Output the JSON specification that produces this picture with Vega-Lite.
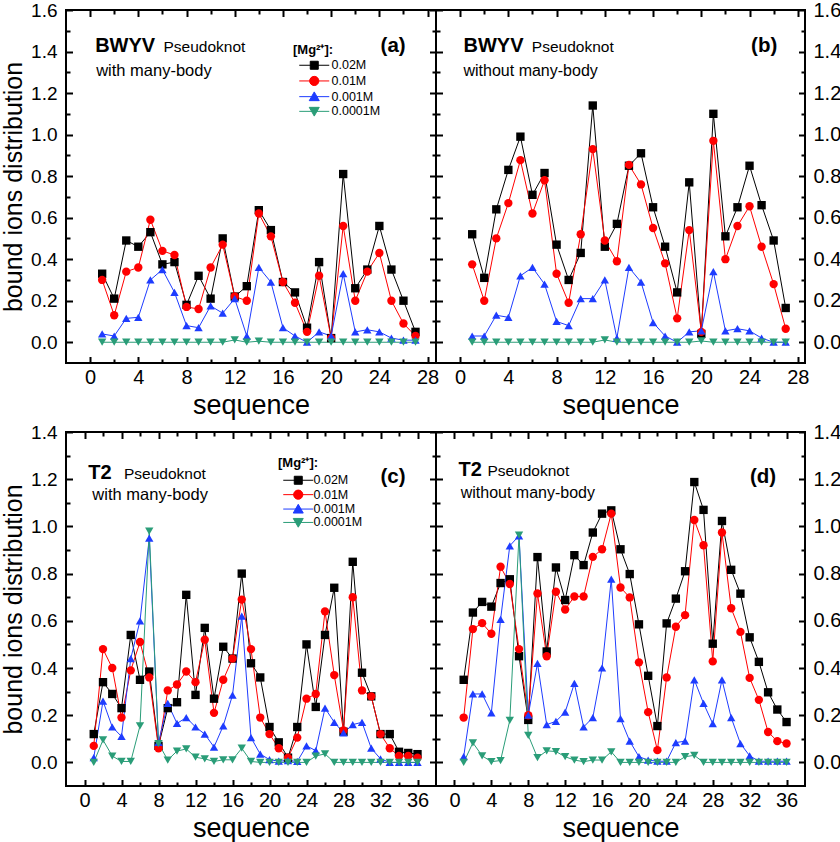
{
"$schema": "https://vega.github.io/schema/vega-lite/v6.json",
"padding": {"left": 0, "top": -1, "right": 0, "bottom": 0},
"config": {
  "font": "Liberation Sans",
  "view": {"stroke": "#000", "strokeWidth": 2},
  "axis": {"labelFont": "Liberation Sans", "titleFont": "Liberation Sans", "labelColor": "#000", "titleColor": "#000", "titleFontWeight": "normal", "gridColor": "#000", "gridOpacity": 1, "gridWidth": 2, "ticks": false, "domain": false, "labelFlush": false, "labelOverlap": false},
  "legend": {"labelFont": "Liberation Sans", "titleFont": "Liberation Sans", "labelColor": "#000", "titleColor": "#000"},
  "text": {"font": "Liberation Sans", "color": "#000"},
  "point": {"filled": true, "size": 70, "opacity": 1}
},
"datasets": {
"A": [
{"s":1,"c":"0.02M","v":0.33},{"s":2,"c":"0.02M","v":0.21},{"s":3,"c":"0.02M","v":0.49},{"s":4,"c":"0.02M","v":0.46},{"s":5,"c":"0.02M","v":0.53},{"s":6,"c":"0.02M","v":0.375},{"s":7,"c":"0.02M","v":0.386},{"s":8,"c":"0.02M","v":0.18},{"s":9,"c":"0.02M","v":0.32},{"s":10,"c":"0.02M","v":0.21},{"s":11,"c":"0.02M","v":0.5},{"s":12,"c":"0.02M","v":0.22},{"s":13,"c":"0.02M","v":0.27},{"s":14,"c":"0.02M","v":0.636},{"s":15,"c":"0.02M","v":0.54},{"s":16,"c":"0.02M","v":0.29},{"s":17,"c":"0.02M","v":0.24},{"s":18,"c":"0.02M","v":0.07},{"s":19,"c":"0.02M","v":0.386},{"s":20,"c":"0.02M","v":0.02},{"s":21,"c":"0.02M","v":0.81},{"s":22,"c":"0.02M","v":0.26},{"s":23,"c":"0.02M","v":0.35},{"s":24,"c":"0.02M","v":0.56},{"s":25,"c":"0.02M","v":0.35},{"s":26,"c":"0.02M","v":0.2},{"s":27,"c":"0.02M","v":0.05},
{"s":1,"c":"0.01M","v":0.3},{"s":2,"c":"0.01M","v":0.13},{"s":3,"c":"0.01M","v":0.34},{"s":4,"c":"0.01M","v":0.36},{"s":5,"c":"0.01M","v":0.59},{"s":6,"c":"0.01M","v":0.44},{"s":7,"c":"0.01M","v":0.42},{"s":8,"c":"0.01M","v":0.17},{"s":9,"c":"0.01M","v":0.16},{"s":10,"c":"0.01M","v":0.36},{"s":11,"c":"0.01M","v":0.47},{"s":12,"c":"0.01M","v":0.22},{"s":13,"c":"0.01M","v":0.2},{"s":14,"c":"0.01M","v":0.62},{"s":15,"c":"0.01M","v":0.51},{"s":16,"c":"0.01M","v":0.29},{"s":17,"c":"0.01M","v":0.19},{"s":18,"c":"0.01M","v":0.05},{"s":19,"c":"0.01M","v":0.32},{"s":20,"c":"0.01M","v":0.02},{"s":21,"c":"0.01M","v":0.56},{"s":22,"c":"0.01M","v":0.2},{"s":23,"c":"0.01M","v":0.34},{"s":24,"c":"0.01M","v":0.43},{"s":25,"c":"0.01M","v":0.2},{"s":26,"c":"0.01M","v":0.09},{"s":27,"c":"0.01M","v":0.03},
{"s":1,"c":"0.001M","v":0.04},{"s":2,"c":"0.001M","v":0.03},{"s":3,"c":"0.001M","v":0.115},{"s":4,"c":"0.001M","v":0.12},{"s":5,"c":"0.001M","v":0.3},{"s":6,"c":"0.001M","v":0.35},{"s":7,"c":"0.001M","v":0.24},{"s":8,"c":"0.001M","v":0.08},{"s":9,"c":"0.001M","v":0.07},{"s":10,"c":"0.001M","v":0.175},{"s":11,"c":"0.001M","v":0.14},{"s":12,"c":"0.001M","v":0.21},{"s":13,"c":"0.001M","v":0.03},{"s":14,"c":"0.001M","v":0.36},{"s":15,"c":"0.001M","v":0.29},{"s":16,"c":"0.001M","v":0.07},{"s":17,"c":"0.001M","v":0.03},{"s":18,"c":"0.001M","v":0.0},{"s":19,"c":"0.001M","v":0.05},{"s":20,"c":"0.001M","v":0.03},{"s":21,"c":"0.001M","v":0.33},{"s":22,"c":"0.001M","v":0.05},{"s":23,"c":"0.001M","v":0.06},{"s":24,"c":"0.001M","v":0.05},{"s":25,"c":"0.001M","v":0.02},{"s":26,"c":"0.001M","v":0.01},{"s":27,"c":"0.001M","v":0.01},
{"s":1,"c":"0.0001M","v":0},{"s":2,"c":"0.0001M","v":0},{"s":3,"c":"0.0001M","v":0},{"s":4,"c":"0.0001M","v":0},{"s":5,"c":"0.0001M","v":0},{"s":6,"c":"0.0001M","v":0},{"s":7,"c":"0.0001M","v":0},{"s":8,"c":"0.0001M","v":0},{"s":9,"c":"0.0001M","v":0},{"s":10,"c":"0.0001M","v":0},{"s":11,"c":"0.0001M","v":0},{"s":12,"c":"0.0001M","v":0.011},{"s":13,"c":"0.0001M","v":0},{"s":14,"c":"0.0001M","v":0.005},{"s":15,"c":"0.0001M","v":0},{"s":16,"c":"0.0001M","v":0},{"s":17,"c":"0.0001M","v":0},{"s":18,"c":"0.0001M","v":0},{"s":19,"c":"0.0001M","v":0},{"s":20,"c":"0.0001M","v":0},{"s":21,"c":"0.0001M","v":0},{"s":22,"c":"0.0001M","v":0},{"s":23,"c":"0.0001M","v":0},{"s":24,"c":"0.0001M","v":0},{"s":25,"c":"0.0001M","v":0},{"s":26,"c":"0.0001M","v":0},{"s":27,"c":"0.0001M","v":0}
],
"B": [
{"s":1,"c":"0.02M","v":0.52},{"s":2,"c":"0.02M","v":0.31},{"s":3,"c":"0.02M","v":0.64},{"s":4,"c":"0.02M","v":0.83},{"s":5,"c":"0.02M","v":0.99},{"s":6,"c":"0.02M","v":0.71},{"s":7,"c":"0.02M","v":0.815},{"s":8,"c":"0.02M","v":0.47},{"s":9,"c":"0.02M","v":0.3},{"s":10,"c":"0.02M","v":0.43},{"s":11,"c":"0.02M","v":1.14},{"s":12,"c":"0.02M","v":0.46},{"s":13,"c":"0.02M","v":0.57},{"s":14,"c":"0.02M","v":0.85},{"s":15,"c":"0.02M","v":0.91},{"s":16,"c":"0.02M","v":0.65},{"s":17,"c":"0.02M","v":0.46},{"s":18,"c":"0.02M","v":0.24},{"s":19,"c":"0.02M","v":0.77},{"s":20,"c":"0.02M","v":0.04},{"s":21,"c":"0.02M","v":1.1},{"s":22,"c":"0.02M","v":0.51},{"s":23,"c":"0.02M","v":0.65},{"s":24,"c":"0.02M","v":0.85},{"s":25,"c":"0.02M","v":0.66},{"s":26,"c":"0.02M","v":0.49},{"s":27,"c":"0.02M","v":0.165},
{"s":1,"c":"0.01M","v":0.375},{"s":2,"c":"0.01M","v":0.2},{"s":3,"c":"0.01M","v":0.5},{"s":4,"c":"0.01M","v":0.67},{"s":5,"c":"0.01M","v":0.877},{"s":6,"c":"0.01M","v":0.62},{"s":7,"c":"0.01M","v":0.78},{"s":8,"c":"0.01M","v":0.33},{"s":9,"c":"0.01M","v":0.19},{"s":10,"c":"0.01M","v":0.52},{"s":11,"c":"0.01M","v":0.93},{"s":12,"c":"0.01M","v":0.49},{"s":13,"c":"0.01M","v":0.39},{"s":14,"c":"0.01M","v":0.854},{"s":15,"c":"0.01M","v":0.76},{"s":16,"c":"0.01M","v":0.55},{"s":17,"c":"0.01M","v":0.38},{"s":18,"c":"0.01M","v":0.115},{"s":19,"c":"0.01M","v":0.54},{"s":20,"c":"0.01M","v":0.05},{"s":21,"c":"0.01M","v":0.97},{"s":22,"c":"0.01M","v":0.4},{"s":23,"c":"0.01M","v":0.56},{"s":24,"c":"0.01M","v":0.655},{"s":25,"c":"0.01M","v":0.46},{"s":26,"c":"0.01M","v":0.28},{"s":27,"c":"0.01M","v":0.065},
{"s":1,"c":"0.001M","v":0.03},{"s":2,"c":"0.001M","v":0.03},{"s":3,"c":"0.001M","v":0.13},{"s":4,"c":"0.001M","v":0.12},{"s":5,"c":"0.001M","v":0.32},{"s":6,"c":"0.001M","v":0.36},{"s":7,"c":"0.001M","v":0.28},{"s":8,"c":"0.001M","v":0.1},{"s":9,"c":"0.001M","v":0.08},{"s":10,"c":"0.001M","v":0.21},{"s":11,"c":"0.001M","v":0.21},{"s":12,"c":"0.001M","v":0.3},{"s":13,"c":"0.001M","v":0.02},{"s":14,"c":"0.001M","v":0.36},{"s":15,"c":"0.001M","v":0.29},{"s":16,"c":"0.001M","v":0.095},{"s":17,"c":"0.001M","v":0.03},{"s":18,"c":"0.001M","v":0.0},{"s":19,"c":"0.001M","v":0.05},{"s":20,"c":"0.001M","v":0.055},{"s":21,"c":"0.001M","v":0.34},{"s":22,"c":"0.001M","v":0.055},{"s":23,"c":"0.001M","v":0.065},{"s":24,"c":"0.001M","v":0.055},{"s":25,"c":"0.001M","v":0.02},{"s":26,"c":"0.001M","v":0.0},{"s":27,"c":"0.001M","v":0.0},
{"s":1,"c":"0.0001M","v":0},{"s":2,"c":"0.0001M","v":0},{"s":3,"c":"0.0001M","v":0},{"s":4,"c":"0.0001M","v":0},{"s":5,"c":"0.0001M","v":0},{"s":6,"c":"0.0001M","v":0},{"s":7,"c":"0.0001M","v":0},{"s":8,"c":"0.0001M","v":0},{"s":9,"c":"0.0001M","v":0},{"s":10,"c":"0.0001M","v":0},{"s":11,"c":"0.0001M","v":0},{"s":12,"c":"0.0001M","v":0.011},{"s":13,"c":"0.0001M","v":0},{"s":14,"c":"0.0001M","v":0},{"s":15,"c":"0.0001M","v":0},{"s":16,"c":"0.0001M","v":0},{"s":17,"c":"0.0001M","v":0},{"s":18,"c":"0.0001M","v":0},{"s":19,"c":"0.0001M","v":0},{"s":20,"c":"0.0001M","v":0.006},{"s":21,"c":"0.0001M","v":0},{"s":22,"c":"0.0001M","v":0},{"s":23,"c":"0.0001M","v":0},{"s":24,"c":"0.0001M","v":0},{"s":25,"c":"0.0001M","v":0},{"s":26,"c":"0.0001M","v":0},{"s":27,"c":"0.0001M","v":0}
],
"C": [
{"s":1,"c":"0.02M","v":0.12},{"s":2,"c":"0.02M","v":0.34},{"s":3,"c":"0.02M","v":0.29},{"s":4,"c":"0.02M","v":0.23},{"s":5,"c":"0.02M","v":0.54},{"s":6,"c":"0.02M","v":0.35},{"s":7,"c":"0.02M","v":0.385},{"s":8,"c":"0.02M","v":0.07},{"s":9,"c":"0.02M","v":0.23},{"s":10,"c":"0.02M","v":0.255},{"s":11,"c":"0.02M","v":0.71},{"s":12,"c":"0.02M","v":0.286},{"s":13,"c":"0.02M","v":0.57},{"s":14,"c":"0.02M","v":0.27},{"s":15,"c":"0.02M","v":0.49},{"s":16,"c":"0.02M","v":0.44},{"s":17,"c":"0.02M","v":0.8},{"s":18,"c":"0.02M","v":0.42},{"s":19,"c":"0.02M","v":0.36},{"s":20,"c":"0.02M","v":0.15},{"s":21,"c":"0.02M","v":0.085},{"s":22,"c":"0.02M","v":0.02},{"s":23,"c":"0.02M","v":0.15},{"s":24,"c":"0.02M","v":0.5},{"s":25,"c":"0.02M","v":0.235},{"s":26,"c":"0.02M","v":0.54},{"s":27,"c":"0.02M","v":0.74},{"s":28,"c":"0.02M","v":0.13},{"s":29,"c":"0.02M","v":0.85},{"s":30,"c":"0.02M","v":0.38},{"s":31,"c":"0.02M","v":0.28},{"s":32,"c":"0.02M","v":0.12},{"s":33,"c":"0.02M","v":0.12},{"s":34,"c":"0.02M","v":0.045},{"s":35,"c":"0.02M","v":0.04},{"s":36,"c":"0.02M","v":0.035},
{"s":1,"c":"0.01M","v":0.07},{"s":2,"c":"0.01M","v":0.48},{"s":3,"c":"0.01M","v":0.4},{"s":4,"c":"0.01M","v":0.19},{"s":5,"c":"0.01M","v":0.39},{"s":6,"c":"0.01M","v":0.51},{"s":7,"c":"0.01M","v":0.36},{"s":8,"c":"0.01M","v":0.06},{"s":9,"c":"0.01M","v":0.305},{"s":10,"c":"0.01M","v":0.33},{"s":11,"c":"0.01M","v":0.385},{"s":12,"c":"0.01M","v":0.34},{"s":13,"c":"0.01M","v":0.52},{"s":14,"c":"0.01M","v":0.21},{"s":15,"c":"0.01M","v":0.35},{"s":16,"c":"0.01M","v":0.44},{"s":17,"c":"0.01M","v":0.69},{"s":18,"c":"0.01M","v":0.48},{"s":19,"c":"0.01M","v":0.19},{"s":20,"c":"0.01M","v":0.12},{"s":21,"c":"0.01M","v":0.06},{"s":22,"c":"0.01M","v":0.02},{"s":23,"c":"0.01M","v":0.105},{"s":24,"c":"0.01M","v":0.27},{"s":25,"c":"0.01M","v":0.29},{"s":26,"c":"0.01M","v":0.64},{"s":27,"c":"0.01M","v":0.37},{"s":28,"c":"0.01M","v":0.135},{"s":29,"c":"0.01M","v":0.7},{"s":30,"c":"0.01M","v":0.305},{"s":31,"c":"0.01M","v":0.28},{"s":32,"c":"0.01M","v":0.12},{"s":33,"c":"0.01M","v":0.06},{"s":34,"c":"0.01M","v":0.027},{"s":35,"c":"0.01M","v":0.027},{"s":36,"c":"0.01M","v":0.02},
{"s":1,"c":"0.001M","v":0.02},{"s":2,"c":"0.001M","v":0.26},{"s":3,"c":"0.001M","v":0.15},{"s":4,"c":"0.001M","v":0.11},{"s":5,"c":"0.001M","v":0.44},{"s":6,"c":"0.001M","v":0.6},{"s":7,"c":"0.001M","v":0.95},{"s":8,"c":"0.001M","v":0.085},{"s":9,"c":"0.001M","v":0.25},{"s":10,"c":"0.001M","v":0.165},{"s":11,"c":"0.001M","v":0.19},{"s":12,"c":"0.001M","v":0.15},{"s":13,"c":"0.001M","v":0.12},{"s":14,"c":"0.001M","v":0.065},{"s":15,"c":"0.001M","v":0.155},{"s":16,"c":"0.001M","v":0.285},{"s":17,"c":"0.001M","v":0.62},{"s":18,"c":"0.001M","v":0.105},{"s":19,"c":"0.001M","v":0.035},{"s":20,"c":"0.001M","v":0.012},{"s":21,"c":"0.001M","v":0.005},{"s":22,"c":"0.001M","v":0.008},{"s":23,"c":"0.001M","v":0.004},{"s":24,"c":"0.001M","v":0.07},{"s":25,"c":"0.001M","v":0.05},{"s":26,"c":"0.001M","v":0.23},{"s":27,"c":"0.001M","v":0.17},{"s":28,"c":"0.001M","v":0.125},{"s":29,"c":"0.001M","v":0.16},{"s":30,"c":"0.001M","v":0.17},{"s":31,"c":"0.001M","v":0.06},{"s":32,"c":"0.001M","v":0.015},{"s":33,"c":"0.001M","v":0},{"s":34,"c":"0.001M","v":0},{"s":35,"c":"0.001M","v":0},{"s":36,"c":"0.001M","v":0},
{"s":1,"c":"0.0001M","v":0},{"s":2,"c":"0.0001M","v":0.095},{"s":3,"c":"0.0001M","v":0.027},{"s":4,"c":"0.0001M","v":0.004},{"s":5,"c":"0.0001M","v":0.004},{"s":6,"c":"0.0001M","v":0.155},{"s":7,"c":"0.0001M","v":0.98},{"s":8,"c":"0.0001M","v":0.08},{"s":9,"c":"0.0001M","v":0.01},{"s":10,"c":"0.0001M","v":0.048},{"s":11,"c":"0.0001M","v":0.057},{"s":12,"c":"0.0001M","v":0.022},{"s":13,"c":"0.0001M","v":0.015},{"s":14,"c":"0.0001M","v":0.004},{"s":15,"c":"0.0001M","v":0.011},{"s":16,"c":"0.0001M","v":0.011},{"s":17,"c":"0.0001M","v":0.06},{"s":18,"c":"0.0001M","v":0.004},{"s":19,"c":"0.0001M","v":0},{"s":20,"c":"0.0001M","v":0},{"s":21,"c":"0.0001M","v":0},{"s":22,"c":"0.0001M","v":0},{"s":23,"c":"0.0001M","v":0},{"s":24,"c":"0.0001M","v":0},{"s":25,"c":"0.0001M","v":0.027},{"s":26,"c":"0.0001M","v":0.036},{"s":27,"c":"0.0001M","v":0},{"s":28,"c":"0.0001M","v":0},{"s":29,"c":"0.0001M","v":0},{"s":30,"c":"0.0001M","v":0},{"s":31,"c":"0.0001M","v":0},{"s":32,"c":"0.0001M","v":0},{"s":33,"c":"0.0001M","v":0},{"s":34,"c":"0.0001M","v":0},{"s":35,"c":"0.0001M","v":0},{"s":36,"c":"0.0001M","v":0}
],
"D": [
{"s":1,"c":"0.02M","v":0.35},{"s":2,"c":"0.02M","v":0.635},{"s":3,"c":"0.02M","v":0.68},{"s":4,"c":"0.02M","v":0.66},{"s":5,"c":"0.02M","v":0.76},{"s":6,"c":"0.02M","v":0.776},{"s":7,"c":"0.02M","v":0.45},{"s":8,"c":"0.02M","v":0.18},{"s":9,"c":"0.02M","v":0.87},{"s":10,"c":"0.02M","v":0.47},{"s":11,"c":"0.02M","v":0.826},{"s":12,"c":"0.02M","v":0.688},{"s":13,"c":"0.02M","v":0.878},{"s":14,"c":"0.02M","v":0.836},{"s":15,"c":"0.02M","v":0.974},{"s":16,"c":"0.02M","v":1.054},{"s":17,"c":"0.02M","v":1.068},{"s":18,"c":"0.02M","v":0.903},{"s":19,"c":"0.02M","v":0.798},{"s":20,"c":"0.02M","v":0.585},{"s":21,"c":"0.02M","v":0.367},{"s":22,"c":"0.02M","v":0.154},{"s":23,"c":"0.02M","v":0.589},{"s":24,"c":"0.02M","v":0.694},{"s":25,"c":"0.02M","v":0.81},{"s":26,"c":"0.02M","v":1.188},{"s":27,"c":"0.02M","v":1.07},{"s":28,"c":"0.02M","v":0.503},{"s":29,"c":"0.02M","v":1.023},{"s":30,"c":"0.02M","v":0.816},{"s":31,"c":"0.02M","v":0.715},{"s":32,"c":"0.02M","v":0.53},{"s":33,"c":"0.02M","v":0.426},{"s":34,"c":"0.02M","v":0.297},{"s":35,"c":"0.02M","v":0.224},{"s":36,"c":"0.02M","v":0.171},
{"s":1,"c":"0.01M","v":0.19},{"s":2,"c":"0.01M","v":0.565},{"s":3,"c":"0.01M","v":0.59},{"s":4,"c":"0.01M","v":0.545},{"s":5,"c":"0.01M","v":0.829},{"s":6,"c":"0.01M","v":0.756},{"s":7,"c":"0.01M","v":0.48},{"s":8,"c":"0.01M","v":0.2},{"s":9,"c":"0.01M","v":0.716},{"s":10,"c":"0.01M","v":0.45},{"s":11,"c":"0.01M","v":0.723},{"s":12,"c":"0.01M","v":0.648},{"s":13,"c":"0.01M","v":0.703},{"s":14,"c":"0.01M","v":0.703},{"s":15,"c":"0.01M","v":0.871},{"s":16,"c":"0.01M","v":0.903},{"s":17,"c":"0.01M","v":1.054},{"s":18,"c":"0.01M","v":0.741},{"s":19,"c":"0.01M","v":0.699},{"s":20,"c":"0.01M","v":0.424},{"s":21,"c":"0.01M","v":0.213},{"s":22,"c":"0.01M","v":0.052},{"s":23,"c":"0.01M","v":0.36},{"s":24,"c":"0.01M","v":0.575},{"s":25,"c":"0.01M","v":0.624},{"s":26,"c":"0.01M","v":1.027},{"s":27,"c":"0.01M","v":0.92},{"s":28,"c":"0.01M","v":0.428},{"s":29,"c":"0.01M","v":0.974},{"s":30,"c":"0.01M","v":0.653},{"s":31,"c":"0.01M","v":0.553},{"s":32,"c":"0.01M","v":0.358},{"s":33,"c":"0.01M","v":0.265},{"s":34,"c":"0.01M","v":0.129},{"s":35,"c":"0.01M","v":0.09},{"s":36,"c":"0.01M","v":0.08},
{"s":1,"c":"0.001M","v":0.024},{"s":2,"c":"0.001M","v":0.29},{"s":3,"c":"0.001M","v":0.29},{"s":4,"c":"0.001M","v":0.21},{"s":5,"c":"0.001M","v":0.606},{"s":6,"c":"0.001M","v":0.918},{"s":7,"c":"0.001M","v":0.96},{"s":8,"c":"0.001M","v":0.2},{"s":9,"c":"0.001M","v":0.42},{"s":10,"c":"0.001M","v":0.16},{"s":11,"c":"0.001M","v":0.174},{"s":12,"c":"0.001M","v":0.213},{"s":13,"c":"0.001M","v":0.335},{"s":14,"c":"0.001M","v":0.15},{"s":15,"c":"0.001M","v":0.19},{"s":16,"c":"0.001M","v":0.4},{"s":17,"c":"0.001M","v":0.777},{"s":18,"c":"0.001M","v":0.185},{"s":19,"c":"0.001M","v":0.09},{"s":20,"c":"0.001M","v":0.024},{"s":21,"c":"0.001M","v":0.01},{"s":22,"c":"0.001M","v":0.005},{"s":23,"c":"0.001M","v":0.005},{"s":24,"c":"0.001M","v":0.084},{"s":25,"c":"0.001M","v":0.09},{"s":26,"c":"0.001M","v":0.35},{"s":27,"c":"0.001M","v":0.25},{"s":28,"c":"0.001M","v":0.164},{"s":29,"c":"0.001M","v":0.35},{"s":30,"c":"0.001M","v":0.19},{"s":31,"c":"0.001M","v":0.08},{"s":32,"c":"0.001M","v":0.028},{"s":33,"c":"0.001M","v":0.005},{"s":34,"c":"0.001M","v":0.005},{"s":35,"c":"0.001M","v":0.005},{"s":36,"c":"0.001M","v":0.005},
{"s":1,"c":"0.0001M","v":0},{"s":2,"c":"0.0001M","v":0.083},{"s":3,"c":"0.0001M","v":0.028},{"s":4,"c":"0.0001M","v":0.003},{"s":5,"c":"0.0001M","v":0.008},{"s":6,"c":"0.0001M","v":0.178},{"s":7,"c":"0.0001M","v":0.963},{"s":8,"c":"0.0001M","v":0.115},{"s":9,"c":"0.0001M","v":0.02},{"s":10,"c":"0.0001M","v":0.049},{"s":11,"c":"0.0001M","v":0.046},{"s":12,"c":"0.0001M","v":0.024},{"s":13,"c":"0.0001M","v":0.01},{"s":14,"c":"0.0001M","v":0.003},{"s":15,"c":"0.0001M","v":0.01},{"s":16,"c":"0.0001M","v":0.01},{"s":17,"c":"0.0001M","v":0.045},{"s":18,"c":"0.0001M","v":0},{"s":19,"c":"0.0001M","v":0},{"s":20,"c":"0.0001M","v":0},{"s":21,"c":"0.0001M","v":0},{"s":22,"c":"0.0001M","v":0},{"s":23,"c":"0.0001M","v":0},{"s":24,"c":"0.0001M","v":0},{"s":25,"c":"0.0001M","v":0.024},{"s":26,"c":"0.0001M","v":0.03},{"s":27,"c":"0.0001M","v":0},{"s":28,"c":"0.0001M","v":0},{"s":29,"c":"0.0001M","v":0},{"s":30,"c":"0.0001M","v":0},{"s":31,"c":"0.0001M","v":0},{"s":32,"c":"0.0001M","v":0},{"s":33,"c":"0.0001M","v":0},{"s":34,"c":"0.0001M","v":0},{"s":35,"c":"0.0001M","v":0},{"s":36,"c":"0.0001M","v":0}
]
},
"vconcat": [
{
"hconcat": [
{
"width": 370, "height": 353,
"data": {"name": "A"},
"layer": [
{"mark": {"type": "line", "strokeWidth": 1},
 "encoding": {
  "x": {"field": "s", "type": "quantitative", "scale": {"domain": [-2, 28.7], "nice": false, "zero": false},
        "axis": {"orient": "bottom", "values": [0,4,8,12,16,20,24,28], "grid": true, "gridDash": [6.5, 340], "labelFontSize": 20, "labelPadding": 4, "title": "sequence", "titleFontSize": 27, "titlePadding": 5}},
  "y": {"field": "v", "type": "quantitative", "scale": {"domain": [-0.1, 1.6], "nice": false, "zero": false},
        "axis": {"orient": "left", "values": [0,0.2,0.4,0.6,0.8,1,1.2,1.4,1.6], "format": ".1f", "grid": true, "gridDash": [6.5, 357], "labelFontSize": 19, "labelPadding": 9, "title": "bound ions distribution", "titleFontSize": 25, "titlePadding": 4}},
  "color": {"field": "c", "type": "nominal", "scale": {"domain": ["0.02M","0.01M","0.001M","0.0001M"], "range": ["#000000","#ff0000","#1e3cff","#2a9d78"]},
        "legend": {"orient": "none", "legendX": 227, "legendY": 34, "title": "[Mg²⁺]:", "titleFontSize": 13, "titleFontWeight": "bold", "titlePadding": 2, "labelFontSize": 12.5, "labelOffset": 11, "rowPadding": 1.7, "symbolOffset": 15,
          "encode": {"symbols": {"update": {
            "size": {"value": 100}, "strokeWidth": {"value": 1}, "opacity": {"value": 1},
            "shape": {"signal": "datum.value === '0.02M' ? 'M-3,0H3M-0.8,-0.8H0.8V0.8H-0.8Z' : datum.value === '0.01M' ? 'M-3,0H3M0.92,0A0.92,0.92,0,1,1,-0.92,0A0.92,0.92,0,1,1,0.92,0Z' : datum.value === '0.001M' ? 'M-3,0H3M0,-0.95L1,0.8H-1Z' : 'M-3,0H3M0,0.95L1,-0.8H-1Z'"},
            "fill": {"signal": "datum.value === '0.02M' ? '#000000' : datum.value === '0.01M' ? '#ff0000' : datum.value === '0.001M' ? '#1e3cff' : '#2a9d78'"},
            "stroke": {"signal": "datum.value === '0.02M' ? '#000000' : datum.value === '0.01M' ? '#ff0000' : datum.value === '0.001M' ? '#1e3cff' : '#2a9d78'"}
          }}}}}
 }},
{"transform": [{"filter": {"field": "c", "equal": "0.02M"}}],
 "mark": {"type": "point", "shape": "square"},
 "encoding": {
  "x": {"field": "s", "type": "quantitative", "axis": {"orient": "top", "values": [2,6,10,14,18,22,26], "grid": true, "gridDash": [4, 345], "labels": false, "title": null}},
  "y": {"field": "v", "type": "quantitative", "axis": {"orient": "right", "values": [0.1,0.3,0.5,0.7,0.9,1.1,1.3,1.5], "grid": true, "gridDash": [4, 362], "labels": false, "title": null}},
  "color": {"field": "c", "type": "nominal", "legend": null}
 }},
{"transform": [{"filter": {"field": "c", "equal": "0.01M"}}],
 "mark": {"type": "point", "shape": "circle"},
 "encoding": {"x": {"field": "s", "type": "quantitative", "axis": null}, "y": {"field": "v", "type": "quantitative", "axis": null}, "color": {"field": "c", "type": "nominal", "legend": null}}},
{"transform": [{"filter": {"field": "c", "equal": "0.001M"}}],
 "mark": {"type": "point", "shape": "triangle-up"},
 "encoding": {"x": {"field": "s", "type": "quantitative", "axis": null}, "y": {"field": "v", "type": "quantitative", "axis": null}, "color": {"field": "c", "type": "nominal", "legend": null}}},
{"transform": [{"filter": {"field": "c", "equal": "0.0001M"}}],
 "mark": {"type": "point", "shape": "triangle-down"},
 "encoding": {"x": {"field": "s", "type": "quantitative", "axis": null}, "y": {"field": "v", "type": "quantitative", "axis": null}, "color": {"field": "c", "type": "nominal", "legend": null}}},
{"data": {"values": [{}]}, "mark": {"type": "text", "text": "BWYV", "fontWeight": "bold", "fontSize": 20, "align": "left", "baseline": "alphabetic"},
 "encoding": {"x": {"datum": 0.42, "type": "quantitative", "axis": null}, "y": {"datum": 1.40, "type": "quantitative", "axis": null}}},
{"data": {"values": [{}]}, "mark": {"type": "text", "text": "Pseudoknot", "fontSize": 15.5, "align": "left", "baseline": "alphabetic"},
 "encoding": {"x": {"datum": 6.09, "type": "quantitative", "axis": null}, "y": {"datum": 1.40, "type": "quantitative", "axis": null}}},
{"data": {"values": [{}]}, "mark": {"type": "text", "text": "with many-body", "fontSize": 16.5, "align": "left", "baseline": "alphabetic"},
 "encoding": {"x": {"datum": 0.5, "type": "quantitative", "axis": null}, "y": {"datum": 1.28, "type": "quantitative", "axis": null}}},
{"data": {"values": [{}]}, "mark": {"type": "text", "text": "(a)", "fontWeight": "bold", "fontSize": 20.5, "align": "left", "baseline": "alphabetic"},
 "encoding": {"x": {"datum": 24.1, "type": "quantitative", "axis": null}, "y": {"datum": 1.40, "type": "quantitative", "axis": null}}}
],
"resolve": {"axis": {"x": "independent", "y": "independent"}}
},
{
"width": 369, "height": 353,
"data": {"name": "B"},
"layer": [
{"mark": {"type": "line", "strokeWidth": 1},
 "encoding": {
  "x": {"field": "s", "type": "quantitative", "scale": {"domain": [-2, 28.6], "nice": false, "zero": false},
        "axis": {"orient": "bottom", "values": [0,4,8,12,16,20,24,28], "grid": true, "gridDash": [6.5, 340], "labelFontSize": 20, "labelPadding": 4, "title": "sequence", "titleFontSize": 27, "titlePadding": 5}},
  "y": {"field": "v", "type": "quantitative", "scale": {"domain": [-0.1, 1.6], "nice": false, "zero": false},
        "axis": {"orient": "left", "values": [0.1,0.3,0.5,0.7,0.9,1.1,1.3,1.5], "grid": true, "gridDash": [4, 361], "labels": false, "title": null}},
  "color": {"field": "c", "type": "nominal", "scale": {"domain": ["0.02M","0.01M","0.001M","0.0001M"], "range": ["#000000","#ff0000","#1e3cff","#2a9d78"]}, "legend": null}
 }},
{"transform": [{"filter": {"field": "c", "equal": "0.02M"}}],
 "mark": {"type": "point", "shape": "square"},
 "encoding": {
  "x": {"field": "s", "type": "quantitative", "axis": {"orient": "top", "values": [2,6,10,14,18,22,26], "grid": true, "gridDash": [4, 345], "labels": false, "title": null}},
  "y": {"field": "v", "type": "quantitative", "axis": {"orient": "right", "values": [0,0.2,0.4,0.6,0.8,1,1.2,1.4,1.6], "format": ".1f", "grid": true, "gridDash": [6.5, 356], "labelFontSize": 20, "labelPadding": 8, "title": null}},
  "color": {"field": "c", "type": "nominal", "legend": null}
 }},
{"transform": [{"filter": {"field": "c", "equal": "0.01M"}}],
 "mark": {"type": "point", "shape": "circle"},
 "encoding": {"x": {"field": "s", "type": "quantitative", "axis": null}, "y": {"field": "v", "type": "quantitative", "axis": null}, "color": {"field": "c", "type": "nominal", "legend": null}}},
{"transform": [{"filter": {"field": "c", "equal": "0.001M"}}],
 "mark": {"type": "point", "shape": "triangle-up"},
 "encoding": {"x": {"field": "s", "type": "quantitative", "axis": null}, "y": {"field": "v", "type": "quantitative", "axis": null}, "color": {"field": "c", "type": "nominal", "legend": null}}},
{"transform": [{"filter": {"field": "c", "equal": "0.0001M"}}],
 "mark": {"type": "point", "shape": "triangle-down"},
 "encoding": {"x": {"field": "s", "type": "quantitative", "axis": null}, "y": {"field": "v", "type": "quantitative", "axis": null}, "color": {"field": "c", "type": "nominal", "legend": null}}},
{"data": {"values": [{}]}, "mark": {"type": "text", "text": "BWYV", "fontWeight": "bold", "fontSize": 20, "align": "left", "baseline": "alphabetic"},
 "encoding": {"x": {"datum": 0.28, "type": "quantitative", "axis": null}, "y": {"datum": 1.40, "type": "quantitative", "axis": null}}},
{"data": {"values": [{}]}, "mark": {"type": "text", "text": "Pseudoknot", "fontSize": 15.5, "align": "left", "baseline": "alphabetic"},
 "encoding": {"x": {"datum": 5.95, "type": "quantitative", "axis": null}, "y": {"datum": 1.40, "type": "quantitative", "axis": null}}},
{"data": {"values": [{}]}, "mark": {"type": "text", "text": "without many-body", "fontSize": 16, "align": "left", "baseline": "alphabetic"},
 "encoding": {"x": {"datum": 0.28, "type": "quantitative", "axis": null}, "y": {"datum": 1.283, "type": "quantitative", "axis": null}}},
{"data": {"values": [{}]}, "mark": {"type": "text", "text": "(b)", "fontWeight": "bold", "fontSize": 20.5, "align": "left", "baseline": "alphabetic"},
 "encoding": {"x": {"datum": 24.13, "type": "quantitative", "axis": null}, "y": {"datum": 1.40, "type": "quantitative", "axis": null}}}
],
"resolve": {"axis": {"x": "independent", "y": "independent"}}
}
],
"spacing": 0, "bounds": "flush",
"resolve": {"scale": {"color": "independent"}}
},
{
"hconcat": [
{
"width": 370, "height": 354,
"data": {"name": "C"},
"layer": [
{"mark": {"type": "line", "strokeWidth": 1},
 "encoding": {
  "x": {"field": "s", "type": "quantitative", "scale": {"domain": [-2, 38], "nice": false, "zero": false},
        "axis": {"orient": "bottom", "values": [0,4,8,12,16,20,24,28,32,36], "grid": true, "gridDash": [6.5, 341], "labelFontSize": 20, "labelPadding": 4, "title": "sequence", "titleFontSize": 27, "titlePadding": 5}},
  "y": {"field": "v", "type": "quantitative", "scale": {"domain": [-0.1, 1.4], "nice": false, "zero": false},
        "axis": {"orient": "left", "values": [0,0.2,0.4,0.6,0.8,1,1.2,1.4], "format": ".1f", "grid": true, "gridDash": [6.5, 357], "labelFontSize": 19, "labelPadding": 9, "title": "bound ions distribution", "titleFontSize": 25, "titlePadding": 4}},
  "color": {"field": "c", "type": "nominal", "scale": {"domain": ["0.02M","0.01M","0.001M","0.0001M"], "range": ["#000000","#ff0000","#1e3cff","#2a9d78"]},
        "legend": {"orient": "none", "legendX": 212, "legendY": 25, "title": "[Mg²⁺]:", "titleFontSize": 13, "titleFontWeight": "bold", "titlePadding": 4, "labelFontSize": 12.5, "labelOffset": 9, "rowPadding": 0.4, "symbolOffset": 14,
          "encode": {"symbols": {"update": {
            "size": {"value": 100}, "strokeWidth": {"value": 1}, "opacity": {"value": 1},
            "shape": {"signal": "datum.value === '0.02M' ? 'M-3,0H3M-0.8,-0.8H0.8V0.8H-0.8Z' : datum.value === '0.01M' ? 'M-3,0H3M0.92,0A0.92,0.92,0,1,1,-0.92,0A0.92,0.92,0,1,1,0.92,0Z' : datum.value === '0.001M' ? 'M-3,0H3M0,-0.95L1,0.8H-1Z' : 'M-3,0H3M0,0.95L1,-0.8H-1Z'"},
            "fill": {"signal": "datum.value === '0.02M' ? '#000000' : datum.value === '0.01M' ? '#ff0000' : datum.value === '0.001M' ? '#1e3cff' : '#2a9d78'"},
            "stroke": {"signal": "datum.value === '0.02M' ? '#000000' : datum.value === '0.01M' ? '#ff0000' : datum.value === '0.001M' ? '#1e3cff' : '#2a9d78'"}
          }}}}}
 }},
{"transform": [{"filter": {"field": "c", "equal": "0.02M"}}],
 "mark": {"type": "point", "shape": "square"},
 "encoding": {
  "x": {"field": "s", "type": "quantitative", "axis": {"orient": "top", "values": [2,6,10,14,18,22,26,30,34], "grid": true, "gridDash": [4, 346], "labels": false, "title": null}},
  "y": {"field": "v", "type": "quantitative", "axis": {"orient": "right", "values": [0.1,0.3,0.5,0.7,0.9,1.1,1.3], "grid": true, "gridDash": [4, 362], "labels": false, "title": null}},
  "color": {"field": "c", "type": "nominal", "legend": null}
 }},
{"transform": [{"filter": {"field": "c", "equal": "0.01M"}}],
 "mark": {"type": "point", "shape": "circle"},
 "encoding": {"x": {"field": "s", "type": "quantitative", "axis": null}, "y": {"field": "v", "type": "quantitative", "axis": null}, "color": {"field": "c", "type": "nominal", "legend": null}}},
{"transform": [{"filter": {"field": "c", "equal": "0.001M"}}],
 "mark": {"type": "point", "shape": "triangle-up"},
 "encoding": {"x": {"field": "s", "type": "quantitative", "axis": null}, "y": {"field": "v", "type": "quantitative", "axis": null}, "color": {"field": "c", "type": "nominal", "legend": null}}},
{"transform": [{"filter": {"field": "c", "equal": "0.0001M"}}],
 "mark": {"type": "point", "shape": "triangle-down"},
 "encoding": {"x": {"field": "s", "type": "quantitative", "axis": null}, "y": {"field": "v", "type": "quantitative", "axis": null}, "color": {"field": "c", "type": "nominal", "legend": null}}},
{"data": {"values": [{}]}, "mark": {"type": "text", "text": "T2", "fontWeight": "bold", "fontSize": 20, "align": "left", "baseline": "alphabetic"},
 "encoding": {"x": {"datum": 0.41, "type": "quantitative", "axis": null}, "y": {"datum": 1.20, "type": "quantitative", "axis": null}}},
{"data": {"values": [{}]}, "mark": {"type": "text", "text": "Pseudoknot", "fontSize": 15.5, "align": "left", "baseline": "alphabetic"},
 "encoding": {"x": {"datum": 4.27, "type": "quantitative", "axis": null}, "y": {"datum": 1.20, "type": "quantitative", "axis": null}}},
{"data": {"values": [{}]}, "mark": {"type": "text", "text": "with many-body", "fontSize": 16.5, "align": "left", "baseline": "alphabetic"},
 "encoding": {"x": {"datum": 0.85, "type": "quantitative", "axis": null}, "y": {"datum": 1.11, "type": "quantitative", "axis": null}}},
{"data": {"values": [{}]}, "mark": {"type": "text", "text": "(c)", "fontWeight": "bold", "fontSize": 20.5, "align": "left", "baseline": "alphabetic"},
 "encoding": {"x": {"datum": 32.0, "type": "quantitative", "axis": null}, "y": {"datum": 1.185, "type": "quantitative", "axis": null}}}
],
"resolve": {"axis": {"x": "independent", "y": "independent"}}
},
{
"width": 369, "height": 354,
"data": {"name": "D"},
"layer": [
{"mark": {"type": "line", "strokeWidth": 1},
 "encoding": {
  "x": {"field": "s", "type": "quantitative", "scale": {"domain": [-2, 38], "nice": false, "zero": false},
        "axis": {"orient": "bottom", "values": [0,4,8,12,16,20,24,28,32,36], "grid": true, "gridDash": [6.5, 341], "labelFontSize": 20, "labelPadding": 4, "title": "sequence", "titleFontSize": 27, "titlePadding": 5}},
  "y": {"field": "v", "type": "quantitative", "scale": {"domain": [-0.1, 1.4], "nice": false, "zero": false},
        "axis": {"orient": "left", "values": [0.1,0.3,0.5,0.7,0.9,1.1,1.3], "grid": true, "gridDash": [4, 361], "labels": false, "title": null}},
  "color": {"field": "c", "type": "nominal", "scale": {"domain": ["0.02M","0.01M","0.001M","0.0001M"], "range": ["#000000","#ff0000","#1e3cff","#2a9d78"]}, "legend": null}
 }},
{"transform": [{"filter": {"field": "c", "equal": "0.02M"}}],
 "mark": {"type": "point", "shape": "square"},
 "encoding": {
  "x": {"field": "s", "type": "quantitative", "axis": {"orient": "top", "values": [2,6,10,14,18,22,26,30,34], "grid": true, "gridDash": [4, 346], "labels": false, "title": null}},
  "y": {"field": "v", "type": "quantitative", "axis": {"orient": "right", "values": [0,0.2,0.4,0.6,0.8,1,1.2,1.4], "format": ".1f", "grid": true, "gridDash": [6.5, 356], "labelFontSize": 20, "labelPadding": 8, "title": null}},
  "color": {"field": "c", "type": "nominal", "legend": null}
 }},
{"transform": [{"filter": {"field": "c", "equal": "0.01M"}}],
 "mark": {"type": "point", "shape": "circle"},
 "encoding": {"x": {"field": "s", "type": "quantitative", "axis": null}, "y": {"field": "v", "type": "quantitative", "axis": null}, "color": {"field": "c", "type": "nominal", "legend": null}}},
{"transform": [{"filter": {"field": "c", "equal": "0.001M"}}],
 "mark": {"type": "point", "shape": "triangle-up"},
 "encoding": {"x": {"field": "s", "type": "quantitative", "axis": null}, "y": {"field": "v", "type": "quantitative", "axis": null}, "color": {"field": "c", "type": "nominal", "legend": null}}},
{"transform": [{"filter": {"field": "c", "equal": "0.0001M"}}],
 "mark": {"type": "point", "shape": "triangle-down"},
 "encoding": {"x": {"field": "s", "type": "quantitative", "axis": null}, "y": {"field": "v", "type": "quantitative", "axis": null}, "color": {"field": "c", "type": "nominal", "legend": null}}},
{"data": {"values": [{}]}, "mark": {"type": "text", "text": "T2", "fontWeight": "bold", "fontSize": 20, "align": "left", "baseline": "alphabetic"},
 "encoding": {"x": {"datum": 0.45, "type": "quantitative", "axis": null}, "y": {"datum": 1.214, "type": "quantitative", "axis": null}}},
{"data": {"values": [{}]}, "mark": {"type": "text", "text": "Pseudoknot", "fontSize": 15.5, "align": "left", "baseline": "alphabetic"},
 "encoding": {"x": {"datum": 3.57, "type": "quantitative", "axis": null}, "y": {"datum": 1.214, "type": "quantitative", "axis": null}}},
{"data": {"values": [{}]}, "mark": {"type": "text", "text": "without many-body", "fontSize": 16, "align": "left", "baseline": "alphabetic"},
 "encoding": {"x": {"datum": 0.68, "type": "quantitative", "axis": null}, "y": {"datum": 1.12, "type": "quantitative", "axis": null}}},
{"data": {"values": [{}]}, "mark": {"type": "text", "text": "(d)", "fontWeight": "bold", "fontSize": 20.5, "align": "left", "baseline": "alphabetic"},
 "encoding": {"x": {"datum": 32.04, "type": "quantitative", "axis": null}, "y": {"datum": 1.185, "type": "quantitative", "axis": null}}}
],
"resolve": {"axis": {"x": "independent", "y": "independent"}}
}
],
"spacing": 0, "bounds": "flush",
"resolve": {"scale": {"color": "independent"}}
}
],
"spacing": 2,
"resolve": {"scale": {"color": "independent"}}
}
